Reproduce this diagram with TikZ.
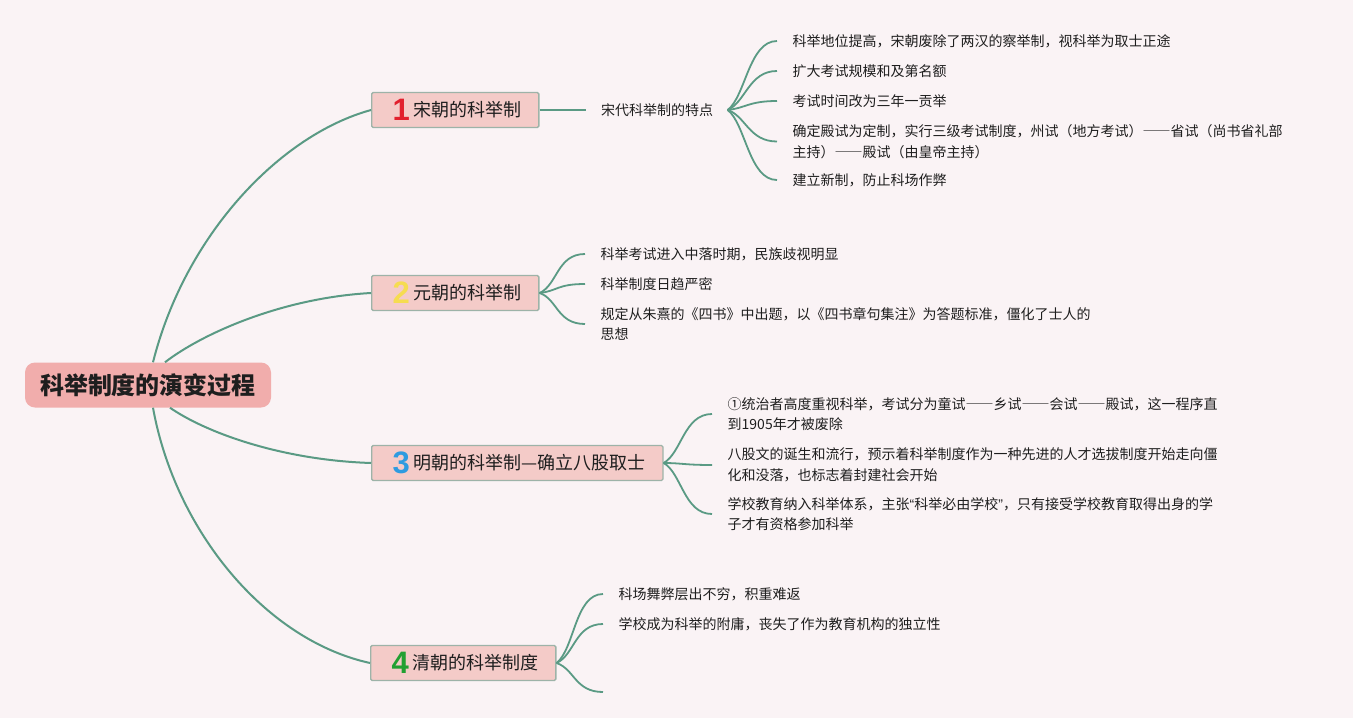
\documentclass[tikz,border=0pt]{standalone}
\usepackage{fontspec}
\setmainfont{Noto Sans CJK SC}
\newfontfamily\numfont{Liberation Sans}
\newfontfamily\quotefont{Liberation Sans}
\definecolor{bgcol}{HTML}{FAF3F5}
\definecolor{linecol}{HTML}{5A9A84}
\definecolor{rootfill}{HTML}{F1ADAC}
\definecolor{branchfill}{HTML}{F4CBC8}
\definecolor{branchborder}{HTML}{9DB3A8}
\definecolor{txt}{HTML}{1E1E1E}
\definecolor{numred}{HTML}{E2202E}
\definecolor{numyellow}{HTML}{F6DC50}
\definecolor{numblue}{HTML}{2E9BE0}
\definecolor{numgreen}{HTML}{22A032}
\newcommand\marknum[2]{\hspace*{4pt}\raisebox{-4pt}{\fontsize{31}{31}\selectfont\numfont\bfseries\color{#1}#2}\hspace{4pt}}
\newcommand\fwdash{{\addfontfeatures{RawFeature=+fwid}——}}
\begin{document}
\begin{tikzpicture}[x=1pt,y=-1pt,
  rootbox/.style={fill=rootfill, rounded corners=10pt, minimum width=246pt, minimum height=45pt, inner sep=0pt, font=\fontsize{24}{28}\selectfont\bfseries, text=txt},
  branchbox/.style={draw=branchborder, line width=1.3pt, fill=branchfill, rounded corners=1.5pt, minimum height=35pt, inner xsep=17pt, inner ysep=0pt, font=\fontsize{18}{22}\selectfont, text=txt, anchor=west},
  hubbox/.style={inner xsep=14.5pt, inner ysep=2pt, font=\fontsize{14}{20.5}\selectfont, text=txt},
  leafbox/.style={anchor=west, inner xsep=15.5pt, inner ysep=2pt, align=left, font=\fontsize{14}{20.5}\selectfont, text=txt},
  mainline/.style={draw=linecol, line width=2pt},
  subline/.style={draw=linecol, line width=1.8pt}]
\useasboundingbox (0,0) rectangle (1353,718);
\fill[bgcol] (0,0) rectangle (1353,718);

% root
\node[rootbox] (root) at (148,385) {科举制度的演变过程};

% branches
\node[branchbox] (b1) at (371,110) {\marknum{numred}{1}宋朝的科举制};
\node[branchbox] (b2) at (371,293) {\marknum{numyellow}{2}元朝的科举制};
\node[branchbox] (b3) at (371,463) {\marknum{numblue}{3}明朝的科举制—确立八股取士};
\node[branchbox] (b4) at (370,663) {\marknum{numgreen}{4}清朝的科举制度};

% Song
\node[hubbox] (s1) at (657,110) {宋代科举制的特点};
\node[leafbox] (s1a) at (777,41) {科举地位提高，宋朝废除了两汉的察举制，视科举为取士正途};
\node[leafbox] (s1b) at (777,71) {扩大考试规模和及第名额};
\node[leafbox] (s1c) at (777,101) {考试时间改为三年一贡举};
\node[leafbox] (s1d) at (777,141.5) {确定殿试为定制，实行三级考试制度，州试（地方考试）\fwdash 省试（尚书省礼部\\主持）\fwdash 殿试（由皇帝主持）};
\node[leafbox] (s1e) at (777,180) {建立新制，防止科场作弊};

% Yuan
\node[leafbox] (y1) at (585,254) {科举考试进入中落时期，民族歧视明显};
\node[leafbox] (y2) at (585,284) {科举制度日趋严密};
\node[leafbox] (y3) at (585,324) {规定从朱熹的《四书》中出题，以《四书章句集注》为答题标准，僵化了士人的\\思想};

% Ming
\node[leafbox] (m1) at (712,414) {①统治者高度重视科举，考试分为童试\fwdash 乡试\fwdash 会试\fwdash 殿试，这一程序直\\到1905年才被废除};
\node[leafbox] (m2) at (712,465) {八股文的诞生和流行，预示着科举制度作为一种先进的人才选拔制度开始走向僵\\化和没落，也标志着封建社会开始};
\node[leafbox] (m3) at (712,514) {学校教育纳入科举体系，主张{\quotefont “}科举必由学校{\quotefont ”}，只有接受学校教育取得出身的学\\子才有资格参加科举};

% Qing
\node[leafbox] (q1) at (603,594) {科场舞弊层出不穷，积重难返};
\node[leafbox] (q2) at (603,624) {学校成为科举的附庸，丧失了作为教育机构的独立性};
\coordinate (q3) at (603,692);

% root connectors
\draw[mainline] ([xshift=5pt]root.north) .. controls (185,235) and (280,135) .. (b1.west);
\draw[mainline] ([xshift=17pt]root.north) .. controls (200,335) and (280,298) .. (b2.west);
\draw[mainline] ([xshift=22pt]root.south) .. controls (205,432) and (280,460) .. (b3.west);
\draw[mainline] ([xshift=5pt]root.south) .. controls (175,530) and (265,640) .. (b4.west);

% Song connectors
\draw[mainline] (b1.east) -- (s1.west);
\draw[subline] (s1.east) .. controls +(18,-14) and +(-28,0) .. (s1a.west);
\draw[subline] (s1.east) .. controls +(18,-8) and +(-28,0) .. (s1b.west);
\draw[subline] (s1.east) .. controls +(18,-2) and +(-28,0) .. (s1c.west);
\draw[subline] (s1.east) .. controls +(18,6) and +(-28,0) .. (s1d.west);
\draw[subline] (s1.east) .. controls +(18,14) and +(-28,0) .. (s1e.west);

% Yuan connectors
\draw[subline] (b2.east) .. controls +(18,-8) and +(-28,0) .. (y1.west);
\draw[subline] (b2.east) .. controls +(18,-2) and +(-28,0) .. (y2.west);
\draw[subline] (b2.east) .. controls +(18,6) and +(-28,0) .. (y3.west);

% Ming connectors
\draw[subline] (b3.east) .. controls +(18,-10) and +(-28,0) .. (m1.west);
\draw[subline] (b3.east) .. controls +(18,0) and +(-28,0) .. (m2.west);
\draw[subline] (b3.east) .. controls +(18,10) and +(-28,0) .. (m3.west);

% Qing connectors
\draw[subline] (b4.east) .. controls +(18,-14) and +(-28,0) .. (q1.west);
\draw[subline] (b4.east) .. controls +(18,-8) and +(-28,0) .. (q2.west);
\draw[subline] (b4.east) .. controls +(18,6) and +(-28,0) .. (q3);
\end{tikzpicture}
\end{document}
